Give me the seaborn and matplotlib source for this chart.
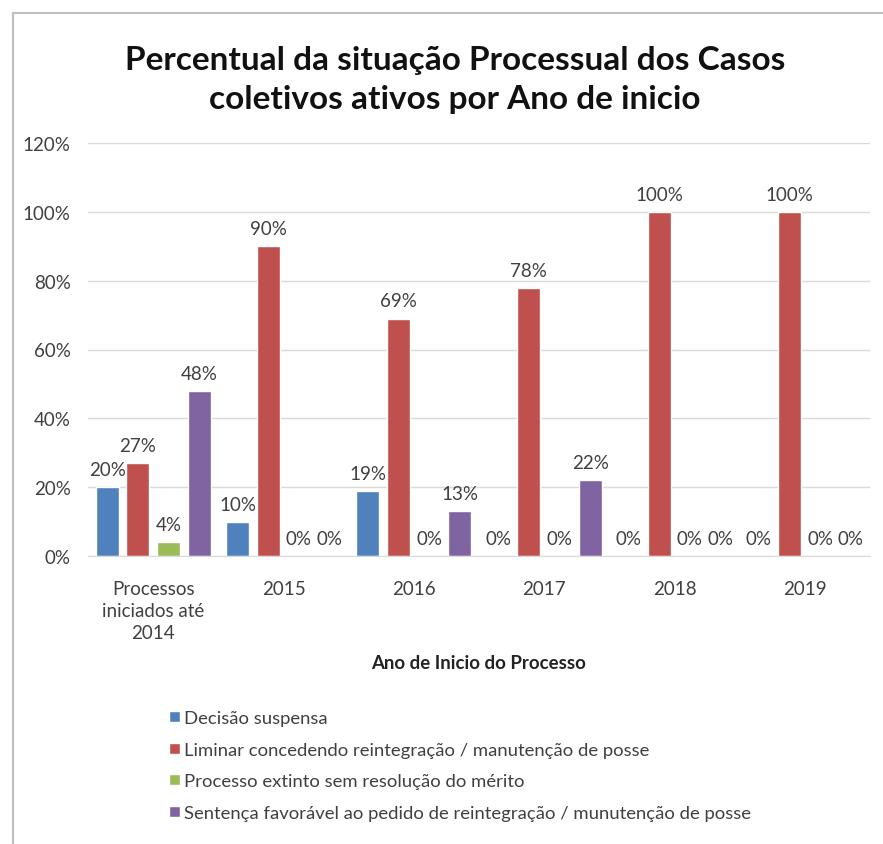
import pandas as pd
import seaborn as sns
import matplotlib.pyplot as plt
from matplotlib.patches import Rectangle
from matplotlib.ticker import FuncFormatter

categories = ["Processos\niniciados até\n2014", "2015", "2016", "2017", "2018", "2019"]
series_names = [
    "Decisão suspensa",
    "Liminar concedendo reintegração / manutenção de posse",
    "Processo extinto sem resolução do mérito",
    "Sentença favorável ao pedido de reintegração / munutenção de posse",
]
decisao_suspensa = [20, 10, 19, 0, 0, 0]
liminar = [27, 90, 69, 78, 100, 100]
processo_extinto = [4, 0, 0, 0, 0, 0]
sentenca = [48, 0, 13, 22, 0, 0]
colors = ["#4F81BD", "#C0504D", "#9BBB59", "#8064A2"]

rows = []
for name, vals in zip(series_names, [decisao_suspensa, liminar, processo_extinto, sentenca]):
    for cat, v in zip(categories, vals):
        rows.append({"Ano": cat, "Situação": name, "Percentual": v})
df = pd.DataFrame(rows)

sns.set_style("white")
plt.rcParams["font.family"] = ["Lato", "DejaVu Sans"]

fig = plt.figure(figsize=(8.83, 8.45), dpi=100)
ax = fig.add_axes([88 / 883, 1 - 557 / 845, (870 - 88) / 883, (557 - 144) / 845])

sns.barplot(data=df, x="Ano", y="Percentual", hue="Situação", order=categories,
            hue_order=series_names, palette=colors, width=0.94, gap=0.25,
            saturation=1, ax=ax, legend=True)

# rótulos de dados
for cont in ax.containers:
    ax.bar_label(cont, labels=[f"{v:.0f}%" for v in cont.datavalues],
                 padding=6.5, fontsize=13.5, color="#404040")

ax.set_ylim(0, 120)
ax.set_yticks(range(0, 121, 20))
ax.yaxis.set_major_formatter(FuncFormatter(lambda v, p: f"{v:.0f}%"))
ax.grid(axis="y", color="#D9D9D9", linewidth=1)
ax.set_axisbelow(True)
for s in ["top", "right", "left"]:
    ax.spines[s].set_visible(False)
ax.spines["bottom"].set_color("#D9D9D9")
ax.tick_params(axis="both", length=0, labelsize=13.5, labelcolor="#404040")
ax.tick_params(axis="y", pad=12.5)
ax.tick_params(axis="x", pad=17.5)
for t in ax.get_xticklabels():
    t.set_linespacing(1.35)

ax.set_ylabel("")
ax.set_xlabel("Ano de Inicio do Processo", fontsize=13.4, fontweight="bold", color="#222222")
ax.xaxis.set_label_coords(0.5, -0.258)
ax.xaxis.label.set_va("center")

handles, labels = ax.get_legend_handles_labels()
ax.get_legend().remove()
fig.legend(handles, labels, loc="upper left", bbox_to_anchor=(162 / 883, 1 - 704 / 845),
           frameon=False, fontsize=13.3, labelcolor="#404040", handlelength=0.55,
           handleheight=0.55, handletextpad=0.25, labelspacing=0.84, borderaxespad=0)

fig.text(455 / 883, 1 - 80 / 845,
         "Percentual da situação Processual dos Casos\ncoletivos ativos por Ano de inicio",
         ha="center", va="center", fontsize=24, fontweight="bold", color="#111111",
         linespacing=1.39)

fig.add_artist(Rectangle((13 / 883, -0.05), 1.1, 1 - 14 / 845 + 0.05, transform=fig.transFigure,
                         fill=False, edgecolor="#BFBFBF", linewidth=1.5))

fig.savefig("out.png", dpi=100)
